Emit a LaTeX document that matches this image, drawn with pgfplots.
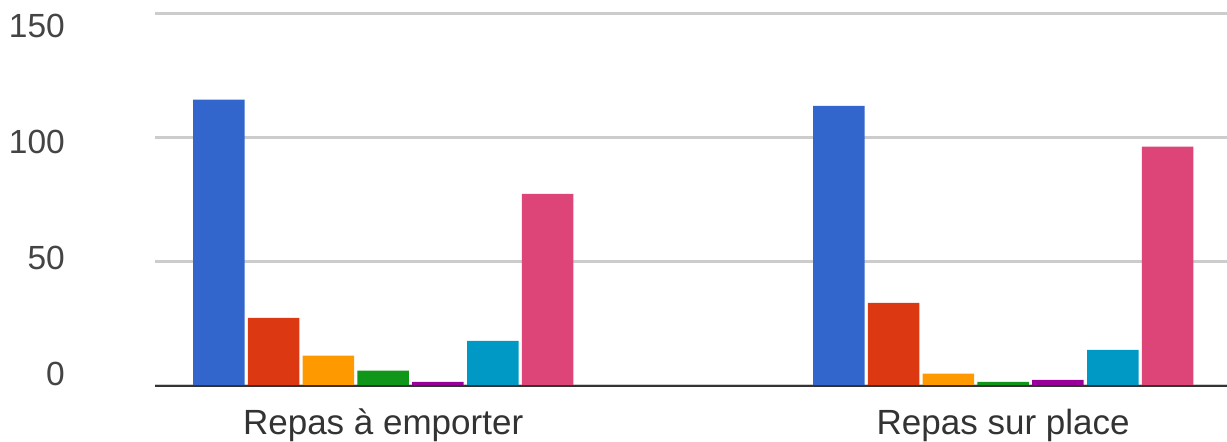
\documentclass[border=0pt]{standalone}
\usepackage{pgfplots}
\pgfplotsset{compat=1.18}
\usepackage{fontspec}
\setmainfont{Liberation Sans}
\definecolor{gblue}{HTML}{3366CC}
\definecolor{gred}{HTML}{DC3912}
\definecolor{gorange}{HTML}{FF9900}
\definecolor{ggreen}{HTML}{109618}
\definecolor{gpurple}{HTML}{990099}
\definecolor{gcyan}{HTML}{0099C6}
\definecolor{gpink}{HTML}{DD4477}
\definecolor{ggrid}{HTML}{CCCCCC}
\definecolor{gbase}{HTML}{333333}
\definecolor{glabel}{HTML}{444444}
\begin{document}
\begin{tikzpicture}
\useasboundingbox (0,0) rectangle (1227pt,442pt);
\begin{axis}[
  at={(155pt,56pt)}, anchor=south west,
  scale only axis, width=1072pt, height=372pt,
  xmin=-0.368, xmax=1.361, ymin=0, ymax=150,
  ybar=3.3pt, bar width=51.5pt,
  xtick={0,1}, xticklabels={Repas à emporter,Repas sur place},
  ytick={0,50,100,150}, yticklabels={},
  extra y ticks={4.8,51.6,98.6,145.2},
  extra y tick labels={0,50,100,150},
  extra y tick style={grid=none, major tick style={draw=none}},
  ymajorgrids,
  every major grid/.style={color=ggrid, line width=3pt},
  axis line style={draw=none}, major tick style={draw=none},
  /pgf/number format/assume math mode=true,
  yticklabel style={anchor=east, inner sep=0pt, xshift=-90pt, text=glabel, font=\fontsize{33.5}{40}\selectfont},
  xticklabel style={anchor=base, inner sep=0pt, yshift=-44.5pt, text=gbase, font=\fontsize{35}{40}\selectfont},
  clip=false,
]
\addplot[fill=gblue, draw=none] coordinates {(0,115.5) (1,113)};
\addplot[fill=gred, draw=none] coordinates {(0,27.5) (1,33.5)};
\addplot[fill=gorange, draw=none] coordinates {(0,12.2) (1,5)};
\addplot[fill=ggreen, draw=none] coordinates {(0,6.2) (1,1.7)};
\addplot[fill=gpurple, draw=none] coordinates {(0,1.7) (1,2.5)};
\addplot[fill=gcyan, draw=none] coordinates {(0,18.2) (1,14.6)};
\addplot[fill=gpink, draw=none] coordinates {(0,77.5) (1,96.5)};
\draw[gbase, line width=2.7pt] (rel axis cs:0,0) -- (rel axis cs:1,0);
\end{axis}
\end{tikzpicture}
\end{document}
